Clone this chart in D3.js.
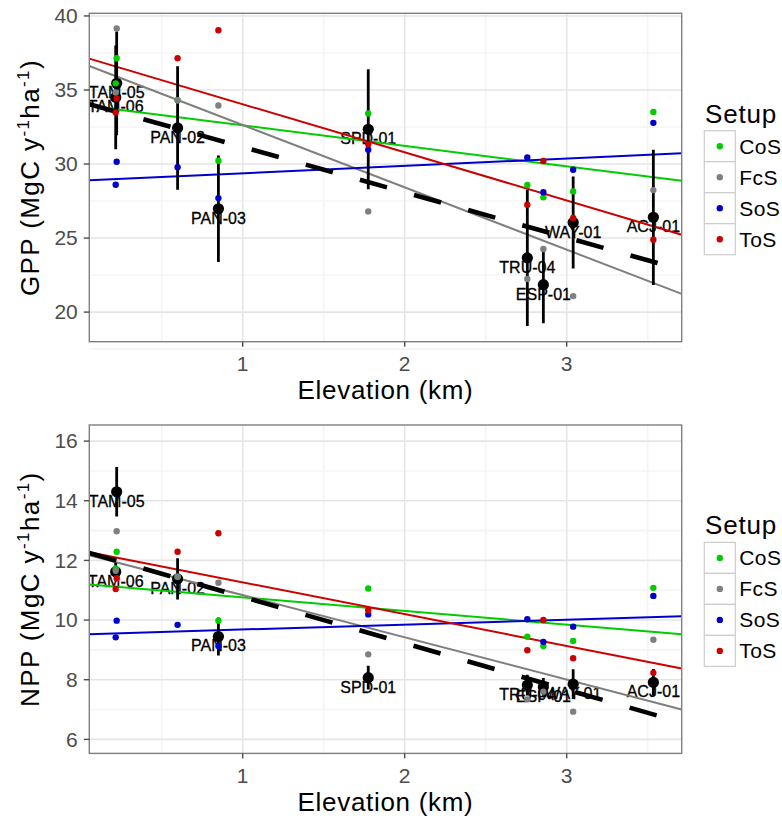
<!DOCTYPE html>
<html>
<head>
<meta charset="utf-8">
<script src="https://cdn.jsdelivr.net/npm/d3@7"></script>
<style>
  html, body { margin: 0; padding: 0; background: #fff; }
  svg { display: block; font-family: "Liberation Sans", Arial, sans-serif; }
</style>
</head>
<body>
<svg id="chart" width="782" height="816"></svg>
<script>
// Sites and their elevations (km)
const sites = ["TAM-05", "TAM-06", "PAN-02", "PAN-03", "SPD-01", "TRU-04", "ESP-01", "WAY-01", "ACJ-01"];
const elevation = [0.222, 0.216, 0.598, 0.850, 1.775, 2.757, 2.856, 3.040, 3.535];

// Model setups
const setups = ["CoS", "FcS", "SoS", "ToS"];
const setupColors = ["#00CD00", "#7F7F7F", "#0000CD", "#CD0000"];

// GPP (MgC y-1 ha-1): observations with uncertainty, and per-setup model values
const gppObs = [35.45, 34.5, 32.44, 26.98, 32.35, 23.66, 21.85, 26.05, 26.4];
const gppErr = [3.5, 3.5, 4.17, 3.6, 4.05, 4.6, 2.6, 3.1, 4.57];
const gppCoS = [37.14, 35.45, 34.31, 30.22, 33.41, 28.58, 27.75, 28.15, 33.52];
const gppFcS = [39.16, 34.83, 34.31, 33.95, 26.8, 22.24, 24.26, 21.08, 28.24];
const gppSoS = [30.15, 28.6, 29.79, 27.7, 30.96, 30.44, 28.09, 29.61, 32.78];
const gppToS = [34.42, 33.48, 37.14, 39.04, 31.34, 27.25, 30.2, 26.35, 24.89];
// Linear fits against elevation (intercept, slope per km)
const gppFitIntercept = [33.99, 36.84, 28.88, 37.29];
const gppFitSlope = [-1.381, -4.208, 0.498, -3.251];
const gppObsFit = [34.21, -3.06];
const gppTicks = [20, 25, 30, 35, 40];

// NPP (MgC y-1 ha-1)
const nppObs = [14.30, 11.62, 11.38, 9.45, 8.07, 7.82, 7.76, 7.85, 7.91];
const nppErr = [0.83, 0.3, 0.69, 0.64, 0.4, 0.35, 0.3, 0.5, 0.45];
const nppCoS = [12.29, 11.73, 11.45, 9.98, 11.06, 9.44, 9.13, 9.30, 11.08];
const nppFcS = [12.98, 11.65, 11.45, 11.25, 8.85, 7.34, 7.6, 6.93, 9.34];
const nppSoS = [9.98, 9.42, 9.84, 9.13, 10.19, 10.03, 9.27, 9.78, 10.81];
const nppToS = [11.40, 11.04, 12.29, 12.91, 10.33, 8.99, 10.0, 8.72, 8.23];
const nppFitIntercept = [11.22, 12.25, 9.52, 12.33];
const nppFitSlope = [-0.457, -1.414, 0.164, -1.066];
const nppObsFit = [12.33, -1.554];
const nppTicks = [6, 8, 10, 12, 14, 16];

const elevTicks = [1, 2, 3];
const elevMinor = [0.5, 1.5, 2.5, 3.5];

const svg = d3.select("#chart");
const FONT = "'Liberation Sans', Arial, sans-serif";

function drawPanel(cfg) {
  const left = 89.3, right = 681.7;
  const top = cfg.top, bottom = cfg.top + 328.4;
  const x = d3.scaleLinear().domain([0.053, 3.71]).range([left, right]);
  const y = d3.scaleLinear().domain(cfg.yDomain).range([bottom, top]);
  const g = svg.append("g");
  const clipId = "clip-" + cfg.name;

  g.append("clipPath").attr("id", clipId)
    .append("rect").attr("x", left).attr("y", top)
    .attr("width", right - left).attr("height", bottom - top);

  // background grid
  const grid = g.append("g");
  grid.selectAll(".ymin").data(cfg.yMinor).join("line")
    .attr("x1", left).attr("x2", right)
    .attr("y1", d => y(d)).attr("y2", d => y(d))
    .attr("stroke", "#F4F4F4").attr("stroke-width", 1.6);
  grid.selectAll(".xmin").data(elevMinor).join("line")
    .attr("y1", top).attr("y2", bottom)
    .attr("x1", d => x(d)).attr("x2", d => x(d))
    .attr("stroke", "#F4F4F4").attr("stroke-width", 1.6);
  grid.selectAll(".ymaj").data(cfg.yTicks).join("line")
    .attr("x1", left).attr("x2", right)
    .attr("y1", d => y(d)).attr("y2", d => y(d))
    .attr("stroke", "#E5E5E5").attr("stroke-width", 1.6);
  grid.selectAll(".xmaj").data(elevTicks).join("line")
    .attr("y1", top).attr("y2", bottom)
    .attr("x1", d => x(d)).attr("x2", d => x(d))
    .attr("stroke", "#E5E5E5").attr("stroke-width", 1.6);

  const plot = g.append("g").attr("clip-path", `url(#${clipId})`);

  // site labels
  plot.selectAll(".site").data(sites).join("text")
    .attr("x", (d, i) => x(elevation[i]))
    .attr("y", (d, i) => y(cfg.obs[i]) + 15)
    .attr("text-anchor", "middle")
    .attr("font-size", 16).attr("font-family", FONT)
    .attr("fill", "#000").attr("stroke", "#000").attr("stroke-width", 0.3)
    .text(d => d);

  // per-setup linear fits
  const xd = x.domain();
  setups.forEach((s, k) => {
    const f = e => cfg.fitIntercept[k] + cfg.fitSlope[k] * e;
    plot.append("line")
      .attr("x1", x(xd[0])).attr("y1", y(f(xd[0])))
      .attr("x2", x(xd[1])).attr("y2", y(f(xd[1])))
      .attr("stroke", setupColors[k]).attr("stroke-width", 2);
  });

  // fit of the observations
  const fo = e => cfg.obsFit[0] + cfg.obsFit[1] * e;
  plot.append("line")
    .attr("x1", x(xd[0])).attr("y1", y(fo(xd[0])))
    .attr("x2", x(xd[1])).attr("y2", y(fo(xd[1])))
    .attr("stroke", "#000").attr("stroke-width", 4.6)
    .attr("stroke-dasharray", "28.1,28.1");

  // observation error bars
  plot.selectAll(".err").data(sites).join("line")
    .attr("x1", (d, i) => x(elevation[i])).attr("x2", (d, i) => x(elevation[i]))
    .attr("y1", (d, i) => y(cfg.obs[i] + cfg.err[i]))
    .attr("y2", (d, i) => y(cfg.obs[i] - cfg.err[i]))
    .attr("stroke", "#000").attr("stroke-width", 2.8);

  // observations
  plot.selectAll(".obs").data(sites).join("circle")
    .attr("cx", (d, i) => x(elevation[i]))
    .attr("cy", (d, i) => y(cfg.obs[i]))
    .attr("r", 5.6).attr("fill", "#000");

  // model values
  cfg.model.forEach((vals, k) => {
    plot.selectAll(".m" + k).data(vals).join("circle")
      .attr("cx", (d, i) => x(elevation[i]))
      .attr("cy", d => y(d))
      .attr("r", 3.2).attr("fill", setupColors[k]);
  });

  // panel border
  g.append("rect").attr("x", left).attr("y", top)
    .attr("width", right - left).attr("height", bottom - top)
    .attr("fill", "none").attr("stroke", "#7F7F7F").attr("stroke-width", 1.4);

  // x axis ticks and labels
  g.selectAll(".xt").data(elevTicks).join("line")
    .attr("x1", d => x(d)).attr("x2", d => x(d))
    .attr("y1", bottom).attr("y2", bottom + 5)
    .attr("stroke", "#4D4D4D").attr("stroke-width", 1.4);
  g.selectAll(".xl").data(elevTicks).join("text")
    .attr("x", d => x(d)).attr("y", bottom + 29.3)
    .attr("text-anchor", "middle").attr("font-size", 21).attr("font-family", FONT)
    .attr("fill", "#4D4D4D").text(d => d);
  g.append("text")
    .attr("x", (left + right) / 2).attr("y", bottom + 57.6)
    .attr("text-anchor", "middle").attr("font-size", 26).attr("font-family", FONT)
    .attr("letter-spacing", 0.7)
    .attr("fill", "#000").text("Elevation (km)");

  // y axis ticks and labels
  g.selectAll(".yt").data(cfg.yTicks).join("line")
    .attr("x1", left - 5.5).attr("x2", left)
    .attr("y1", d => y(d)).attr("y2", d => y(d))
    .attr("stroke", "#4D4D4D").attr("stroke-width", 1.4);
  g.selectAll(".yl").data(cfg.yTicks).join("text")
    .attr("x", left - 11.5).attr("y", d => y(d) + 7.3)
    .attr("text-anchor", "end").attr("font-size", 21).attr("font-family", FONT)
    .attr("fill", "#4D4D4D").text(d => d);

  const cy = (top + bottom) / 2;
  const yt = g.append("text")
    .attr("transform", `translate(39,${cy}) rotate(-90)`)
    .attr("text-anchor", "middle").attr("font-size", 26).attr("font-family", FONT)
    .attr("letter-spacing", 1.4).attr("fill", "#000");
  yt.append("tspan").text(cfg.yName + " (MgC y");
  yt.append("tspan").attr("dy", -10).attr("font-size", 17).text("-1");
  yt.append("tspan").attr("dy", 10).text("ha");
  yt.append("tspan").attr("dy", -10).attr("font-size", 17).text("-1");
  yt.append("tspan").attr("dy", 10).text(")");

  // legend
  const lg = g.append("g");
  lg.append("text").attr("x", 705).attr("y", cy - 55)
    .attr("font-size", 26).attr("font-family", FONT).attr("letter-spacing", 0.8)
    .attr("fill", "#000").text("Setup");
  setups.forEach((s, k) => {
    const ry = cy - 46.8 + k * 31;
    lg.append("rect").attr("x", 704.3).attr("y", ry).attr("width", 31).attr("height", 31)
      .attr("fill", "#fff").attr("stroke", "#CCCCCC").attr("stroke-width", 1.2);
    lg.append("circle").attr("cx", 719.8).attr("cy", ry + 15.5).attr("r", 3.2)
      .attr("fill", setupColors[k]);
    lg.append("text").attr("x", 739.3).attr("y", ry + 15.5 + 7.5)
      .attr("font-size", 21).attr("font-family", FONT).attr("letter-spacing", 0.4)
      .attr("fill", "#000").text(s);
  });
}

drawPanel({
  name: "gpp", top: 13.3, yDomain: [18.0, 40.18], yTicks: gppTicks,
  yMinor: [17.5, 22.5, 27.5, 32.5, 37.5], yName: "GPP",
  obs: gppObs, err: gppErr, model: [gppCoS, gppFcS, gppSoS, gppToS],
  fitIntercept: gppFitIntercept, fitSlope: gppFitSlope, obsFit: gppObsFit
});

drawPanel({
  name: "npp", top: 425, yDomain: [5.53, 16.54], yTicks: nppTicks,
  yMinor: [7, 9, 11, 13, 15], yName: "NPP",
  obs: nppObs, err: nppErr, model: [nppCoS, nppFcS, nppSoS, nppToS],
  fitIntercept: nppFitIntercept, fitSlope: nppFitSlope, obsFit: nppObsFit
});
</script>
</body>
</html>
